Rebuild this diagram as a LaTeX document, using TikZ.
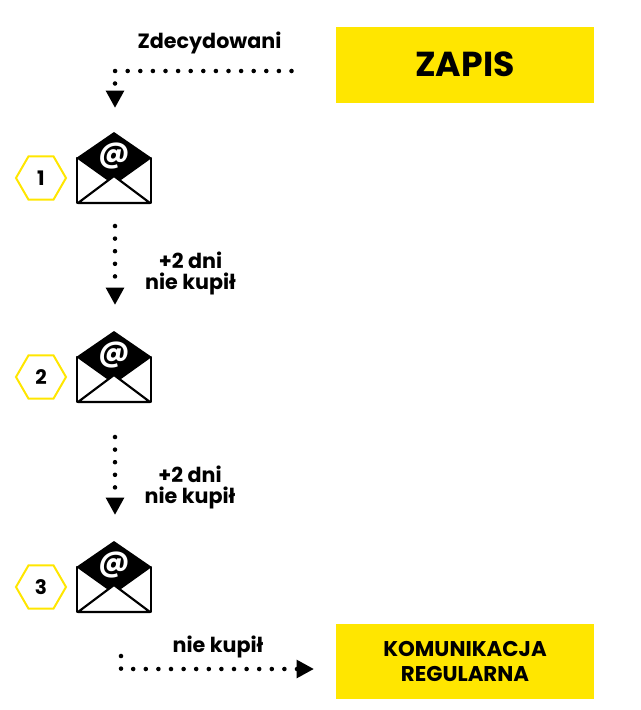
\documentclass[tikz,border=0pt]{standalone}
\usepackage{fontspec}
\setmainfont{Poppins}
\usetikzlibrary{arrows.meta,shapes.geometric}
\definecolor{zapisyellow}{HTML}{FFE600}
\tikzset{
  box/.style={fill=zapisyellow, minimum width=193.5pt, font=\bfseries, inner sep=0pt, align=center},
  hexa/.style={regular polygon, regular polygon sides=6, draw=zapisyellow, line width=1.5pt, minimum size=37.5pt, inner sep=0pt, font=\bfseries\fontsize{15}{15}\selectfont},
  lab/.style={font=\bfseries\fontsize{15.5}{15.5}\selectfont, inner sep=0pt, align=center},
  dots/.style={line width=3.4pt, line cap=round, dash pattern=on 0pt off 9.45pt, -{Triangle[length=13pt,width=13pt]}},
  pics/envelope/.style={code={
    \draw[line width=1.6pt, fill=white, line join=bevel] (-37,-21) -- (-37,24) -- (37,24) -- (37,-21) -- cycle;
    \fill (-37.8,-21) -- (0,-47) -- (37.8,-21) -- (0,6) -- cycle;
    \draw[line width=1.6pt, fill=white, line join=bevel] (-36,24) -- (0,-3) -- (36,24) -- cycle;
    \node (#1) [text=white, font=\bfseries\fontsize{22}{22}\selectfont, inner sep=0pt] at (0,-23) {@};
  }}
}
\begin{document}
\begin{tikzpicture}[x=0.75pt, y=-0.75pt]
\useasboundingbox (0,0) rectangle (640,710);
\node (zapis) [box, minimum height=57pt, font=\bfseries\fontsize{26}{26}\selectfont, text depth=0pt, text height=18pt] at (465,65) {ZAPIS};
\node (regular) [box, minimum height=56pt, font=\bfseries\fontsize{16}{18.75}\selectfont] at (465,661.5) {KOMUNIKACJA\\REGULARNA};

\pic at (114,179) {envelope=mail1};
\pic at (114,378) {envelope=mail2};
\pic at (114,588) {envelope=mail3};

\node (hex1) [hexa] at (41,178) {1};
\node (hex2) [hexa] at (41,377) {2};
\node (hex3) [hexa] at (41,587) {3};

\node (decided) [lab] at (209.5,43) {Zdecydowani};
\node (wait1) [lab] at (190.5,273.5) {+2 dni\\nie kupił};
\node (wait2) [lab] at (190,487.5) {+2 dni\\nie kupił};
\node (nobuy) [lab] at (218,647) {nie kupił};

\coordinate (a1) at (291.5,71);
\coordinate (a2) at (115,108);
\coordinate (b1) at (115,226);
\coordinate (b2) at (115,305);
\coordinate (c1) at (115,437);
\coordinate (c2) at (115,515);
\coordinate (d1) at (121,656);
\coordinate (d2) at (314,669);

\draw[dots] (a1) -| (a2);
\draw[dots] (b1) -- (b2);
\draw[dots] (c1) -- (c2);
\draw[dots] (d1) |- (d2);
\end{tikzpicture}
\end{document}
